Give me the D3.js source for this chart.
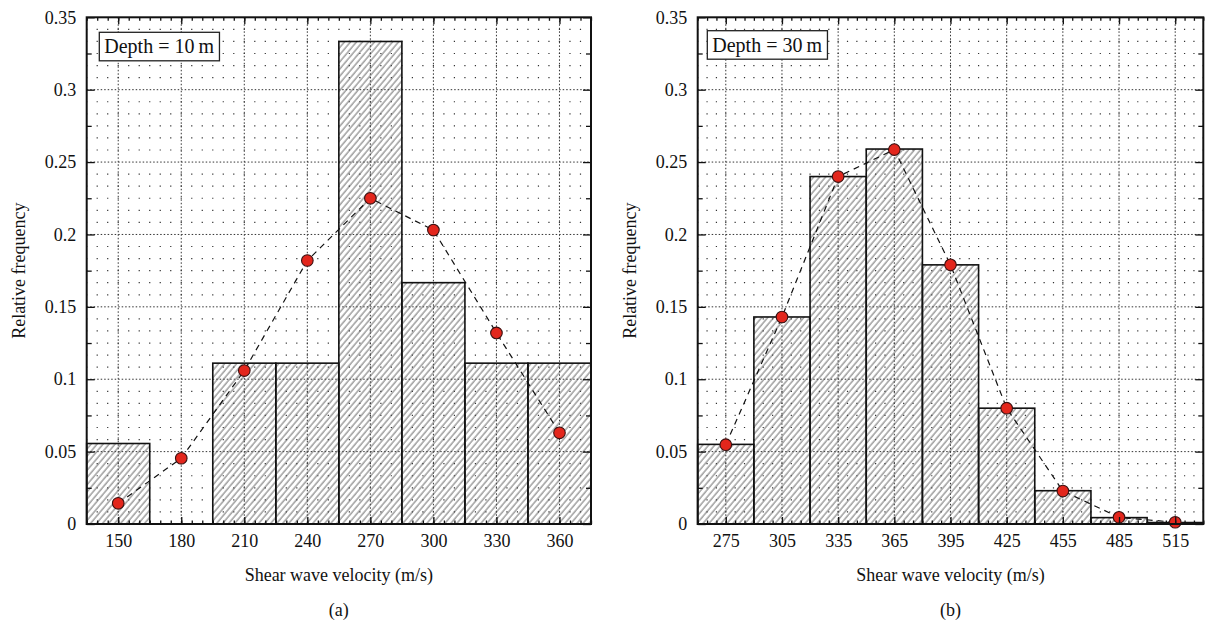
<!DOCTYPE html>
<html><head><meta charset="utf-8">
<script src="https://cdn.jsdelivr.net/npm/d3@7"></script>
<style>
body{margin:0;background:#fff;}
text{font-family:"Liberation Serif","Times New Roman",serif;fill:#111;}
</style></head>
<body><svg id="c" width="1207" height="627"></svg>
<script>
// ---- data ----
const leftCats = [150, 180, 210, 240, 270, 300, 330, 360];
const leftBars = [0.0556, 0, 0.1111, 0.1111, 0.3333, 0.1667, 0.1111, 0.1111];
const leftPoints = [0.0143, 0.0454, 0.106, 0.182, 0.225, 0.203, 0.132, 0.063];
const rightCats = [275, 305, 335, 365, 395, 425, 455, 485, 515];
const rightBars = [0.055, 0.143, 0.240, 0.259, 0.179, 0.080, 0.023, 0.0044, 0.001];
const rightPoints = [0.0548, 0.143, 0.240, 0.2586, 0.179, 0.080, 0.0228, 0.0046, 0.0012];
const yTicks = [0, 0.05, 0.1, 0.15, 0.2, 0.25, 0.3, 0.35];
const yTickLabels = ["0", "0.05", "0.1", "0.15", "0.2", "0.25", "0.3", "0.35"];
const binWidth = 30;
const xTitle = "Shear wave velocity (m/s)";
const yTitle = "Relative frequency";

const svg = d3.select("#c");
const defs = svg.append("defs");
const pat = defs.append("pattern").attr("id","hatch").attr("patternUnits","userSpaceOnUse")
  .attr("width",4.6).attr("height",10).attr("patternTransform","rotate(40)");
pat.append("line").attr("x1",1).attr("y1",0).attr("x2",1).attr("y2",10)
  .attr("stroke","#555").attr("stroke-width",0.9);

function panel(cfg){
  const g = svg.append("g");
  const x = d3.scaleLinear().domain(cfg.xDomain).range([cfg.left, cfg.right]);
  const y = d3.scaleLinear().domain([0,0.35]).range([cfg.bottom, cfg.top]);
  // minor grid dot lattice
  const gridG = g.append("g");
  const xStep = x(cfg.xDomain[0]+5) - x(cfg.xDomain[0]);
  for (let v = 0; v <= 0.35 + 1e-9; v += 0.05/6) {
    const isMajor = Math.abs(v/0.05 - Math.round(v/0.05)) < 1e-6;
    if (isMajor) continue;
    gridG.append("line").attr("x1", x(cfg.xDomain[0])-0.6).attr("x2", cfg.right)
      .attr("y1", y(v)).attr("y2", y(v))
      .attr("stroke","#333").attr("stroke-width",1.2)
      .attr("stroke-dasharray", `1.2,${(xStep-1.2).toFixed(3)}`);
  }
  // major grid
  yTicks.slice(1,-1).forEach(v=>{
    gridG.append("line").attr("x1",cfg.left).attr("x2",cfg.right).attr("y1",y(v)).attr("y2",y(v))
      .attr("stroke","#333").attr("stroke-width",1).attr("stroke-dasharray","1.5,2");
  });
  cfg.cats.forEach(c=>{
    gridG.append("line").attr("x1",x(c)).attr("x2",x(c)).attr("y1",cfg.top).attr("y2",cfg.bottom)
      .attr("stroke","#333").attr("stroke-width",1).attr("stroke-dasharray","1.5,2");
  });
  // bars
  g.append("g").selectAll("rect").data(cfg.cats.map((c,i)=>({c, v:cfg.bars[i]})).filter(d=>d.v>0))
    .join("rect")
    .attr("x", d=>x(d.c - binWidth/2)).attr("width", d=>x(d.c + binWidth/2)-x(d.c - binWidth/2))
    .attr("y", d=>y(d.v)).attr("height", d=>y(0)-y(d.v))
    .attr("fill","url(#hatch)").attr("stroke","#111").attr("stroke-width",1.6);
  // dashed line
  const pts = cfg.cats.map((c,i)=>[c, cfg.points[i]]);
  g.append("path").datum(pts)
    .attr("d", d3.line().x(d=>x(d[0])).y(d=>y(d[1])))
    .attr("fill","none").attr("stroke","#111").attr("stroke-width",1.2).attr("stroke-dasharray","6,5");
  g.append("g").selectAll("circle").data(pts).join("circle")
    .attr("cx",d=>x(d[0])).attr("cy",d=>y(d[1])).attr("r",5.8)
    .attr("fill","#e3261c").attr("stroke","#3a1010").attr("stroke-width",1.1);
  // axes (inward ticks)
  const xMinor = d3.range(cfg.xDomain[0], cfg.xDomain[1]+0.01, 5);
  const yMinor = d3.range(0.025, 0.35, 0.05);
  const axG = g.append("g");
  const axB = d3.axisBottom(x).tickValues(cfg.cats).tickSize(-7).tickPadding(10).tickFormat(d3.format("d"));
  axG.append("g").attr("transform",`translate(0,${cfg.bottom})`).call(axB);
  axG.append("g").attr("transform",`translate(0,${cfg.bottom})`)
    .call(d3.axisBottom(x).tickValues(xMinor).tickSize(-3.5).tickFormat(""));
  axG.append("g").attr("transform",`translate(0,${cfg.top})`)
    .call(d3.axisTop(x).tickValues(cfg.cats).tickSize(-7).tickFormat(""));
  axG.append("g").attr("transform",`translate(0,${cfg.top})`)
    .call(d3.axisTop(x).tickValues(xMinor).tickSize(-3.5).tickFormat(""));
  axG.append("g").attr("transform",`translate(${cfg.left},0)`)
    .call(d3.axisLeft(y).tickValues(yTicks).tickSize(-8).tickPadding(10.5).tickFormat((d,i)=>yTickLabels[i]));
  axG.append("g").attr("transform",`translate(${cfg.left},0)`)
    .call(d3.axisLeft(y).tickValues(yMinor).tickSize(-5).tickFormat(""));
  axG.append("g").attr("transform",`translate(${cfg.right},0)`)
    .call(d3.axisRight(y).tickValues(yTicks).tickSize(-8).tickFormat(""));
  axG.append("g").attr("transform",`translate(${cfg.right},0)`)
    .call(d3.axisRight(y).tickValues(yMinor).tickSize(-5).tickFormat(""));
  axG.selectAll(".domain").remove();
  axG.selectAll(".tick line").attr("stroke","#111").attr("stroke-width",1.3);
  axG.selectAll(".tick text").attr("font-size",18).attr("font-family","Liberation Serif").attr("fill","#111");
  // frame
  g.append("rect").attr("x",cfg.left).attr("y",cfg.top).attr("width",cfg.right-cfg.left)
    .attr("height",cfg.bottom-cfg.top).attr("fill","none").attr("stroke","#111").attr("stroke-width",2);
  // legend box
  const boxG = g.append("g");
  const boxR = boxG.append("rect");
  const lt = boxG.append("text").attr("x",cfg.boxX+5).attr("y",cfg.boxY+21).attr("font-size",20).text(cfg.label);
  const bb = lt.node().getBBox();
  boxR.attr("x",cfg.boxX).attr("y",cfg.boxY).attr("width",bb.width+10).attr("height",28.5)
    .attr("fill","#fff").attr("stroke","#222").attr("stroke-width",1.3);
  // titles
  const cx = (cfg.left+cfg.right)/2;
  g.append("text").attr("x",cx).attr("y",581).attr("text-anchor","middle").attr("font-size",18)
    .attr("font-family","Liberation Serif").text(xTitle);
  g.append("text").attr("transform",`translate(${cfg.left-62},${(cfg.top+cfg.bottom)/2}) rotate(-90)`)
    .attr("text-anchor","middle").attr("font-size",18).attr("font-family","Liberation Serif").text(yTitle);
  g.append("text").attr("x",cx).attr("y",616).attr("text-anchor","middle").attr("font-size",18).text(cfg.sub);
}

panel({left:86.7,right:591,top:17.3,bottom:524,xDomain:[135,375],cats:leftCats,bars:leftBars,points:leftPoints,
  label:"Depth = 10\u2009m",boxX:99.3,boxY:32.3,sub:"(a)"});
panel({left:697.7,right:1203.3,top:17.3,bottom:524,xDomain:[260,530],cats:rightCats,bars:rightBars,points:rightPoints,
  label:"Depth = 30\u2009m",boxX:707.3,boxY:30.7,sub:"(b)"});
</script></body></html>
